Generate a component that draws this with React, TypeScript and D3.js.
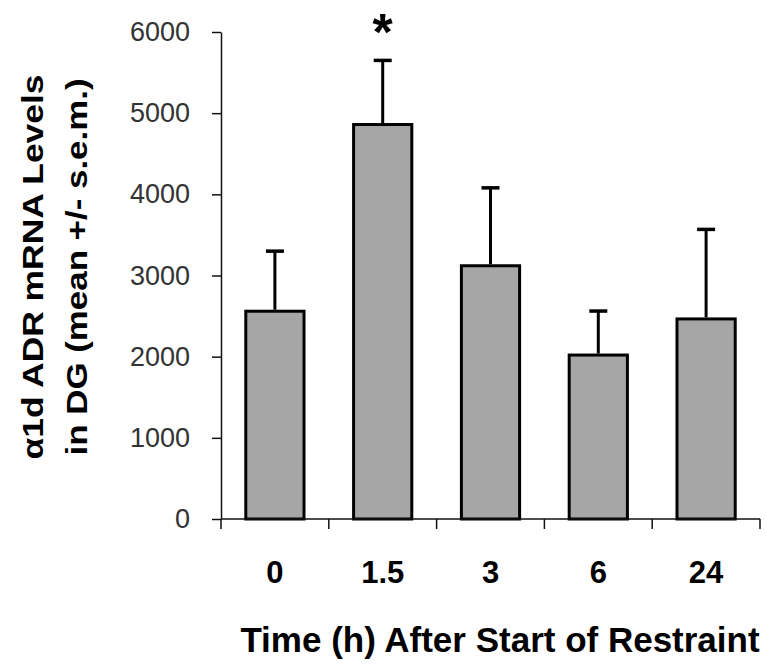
import React, { useEffect, useRef } from 'react';
import * as d3 from 'd3';

// Data
const times = ['0', '1.5', '3', '6', '24'];
const means = [2560, 4860, 3120, 2020, 2465];
const sems = [740, 790, 960, 542, 1103];
const yTicks = [0, 1000, 2000, 3000, 4000, 5000, 6000];
const significant = ['1.5'];

const FONT = 'Arial, "Liberation Sans", Helvetica, sans-serif';

const App = () => {
  const svgRef = useRef<SVGSVGElement | null>(null);

  useEffect(() => {
    document.body.style.margin = '0';
    if (!svgRef.current) return;

    const svg = d3.select(svgRef.current);
    svg.selectAll('*').remove();

    const width = 766;
    const height = 667;
    svg.attr('width', width).attr('height', height);

    // Scales
    const x = d3.scaleBand<string>()
      .domain(times)
      .range([221, 760])
      .paddingInner(0.46)
      .paddingOuter(0.23);

    const y = d3.scaleLinear()
      .domain([0, 6000])
      .range([519, 32]);

    const rows = times.map((t, i) => ({ t, mean: means[i], sem: sems[i] }));

    // Bars
    svg.append('g')
      .selectAll('rect')
      .data(rows)
      .enter()
      .append('rect')
      .attr('x', d => x(d.t)!)
      .attr('y', d => y(d.mean))
      .attr('width', x.bandwidth())
      .attr('height', d => y(0) - y(d.mean))
      .attr('fill', '#a6a6a6')
      .attr('stroke', '#000')
      .attr('stroke-width', 3);

    // Error bars (upper only)
    const err = svg.append('g');
    rows.forEach(d => {
      const cx = x(d.t)! + x.bandwidth() / 2;
      err.append('line')
        .attr('x1', cx).attr('x2', cx)
        .attr('y1', y(d.mean) - 1.5)
        .attr('y2', y(d.mean + d.sem))
        .attr('stroke', '#000')
        .attr('stroke-width', 3);
      err.append('line')
        .attr('x1', cx - 9).attr('x2', cx + 9)
        .attr('y1', y(d.mean + d.sem))
        .attr('y2', y(d.mean + d.sem))
        .attr('stroke', '#000')
        .attr('stroke-width', 3.5);
    });

    // Significance marker
    svg.append('g')
      .selectAll('text')
      .data(rows.filter(d => significant.includes(d.t)))
      .enter()
      .append('text')
      .attr('x', d => x(d.t)! + x.bandwidth() / 2)
      .attr('y', 50)
      .attr('text-anchor', 'middle')
      .style('font-family', FONT)
      .style('font-weight', 'bold')
      .style('font-size', '52px')
      .text('*');

    // Y axis
    const yAxis = svg.append('g')
      .attr('transform', 'translate(221,0)')
      .call(
        d3.axisLeft(y)
          .tickValues(yTicks)
          .tickSize(9)
          .tickSizeOuter(0)
          .tickPadding(22)
          .tickFormat(d3.format('d'))
      );
    yAxis.select('.domain').attr('stroke', '#111').attr('stroke-width', 1.5);
    yAxis.selectAll('.tick line').attr('stroke', '#111').attr('stroke-width', 1.5);
    yAxis.selectAll('.tick text')
      .attr('fill', '#333')
      .style('font-family', FONT)
      .style('font-size', '27px');

    // X axis
    const xAxis = svg.append('g');
    const [x0, x1] = x.range();
    xAxis.append('line')
      .attr('x1', x0).attr('x2', x1)
      .attr('y1', y(0)).attr('y2', y(0))
      .attr('stroke', '#111')
      .attr('stroke-width', 1.5);
    d3.range(times.length + 1).forEach(i => {
      const tx = x0 + i * x.step();
      xAxis.append('line')
        .attr('x1', tx).attr('x2', tx)
        .attr('y1', y(0)).attr('y2', y(0) + 10)
        .attr('stroke', '#111')
        .attr('stroke-width', 1.5);
    });
    xAxis.selectAll('text')
      .data(times)
      .enter()
      .append('text')
      .attr('x', d => x(d)! + x.bandwidth() / 2)
      .attr('y', 583)
      .attr('text-anchor', 'middle')
      .style('font-family', FONT)
      .style('font-weight', 'bold')
      .style('font-size', '31px')
      .text(d => d);

    // Axis titles
    svg.append('text')
      .attr('x', 500)
      .attr('y', 652)
      .attr('text-anchor', 'middle')
      .style('font-family', FONT)
      .style('font-weight', 'bold')
      .style('font-size', '35px')
      .text('Time (h) After Start of Restraint');

    const yTitle = [
      { text: 'α1d ADR mRNA Levels', x: 43, len: 385 },
      { text: 'in DG (mean +/- s.e.m.)', x: 87, len: 377 },
    ];
    yTitle.forEach(l => {
      svg.append('text')
        .attr('transform', `translate(${l.x},267) rotate(-90)`)
        .attr('text-anchor', 'middle')
        .attr('textLength', l.len)
        .attr('lengthAdjust', 'spacingAndGlyphs')
        .style('font-family', FONT)
        .style('font-weight', 'bold')
        .style('font-size', '30px')
        .text(l.text);
    });
  }, []);

  return <svg ref={svgRef}></svg>;
};

export default App;
